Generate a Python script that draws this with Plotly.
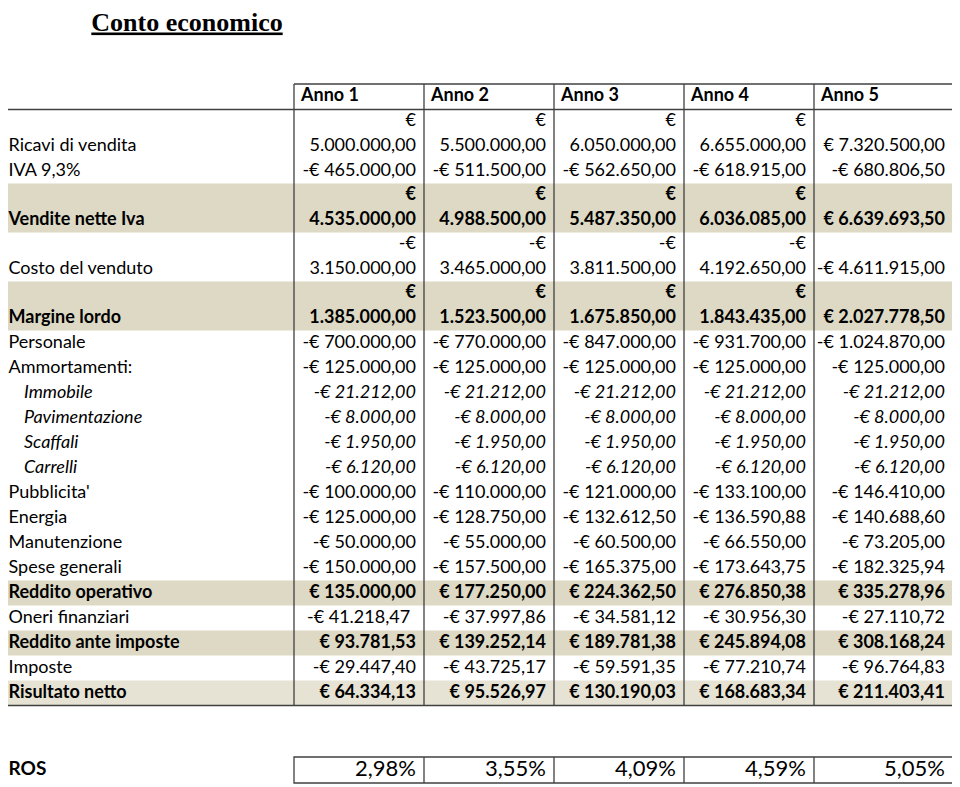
import plotly.graph_objects as go

# ---------------- data ----------------
title_text = "Conto economico"
years = ["Anno 1", "Anno 2", "Anno 3", "Anno 4", "Anno 5"]

row_labels = ["Ricavi di vendita", "IVA 9,3%", "Vendite nette Iva", "Costo del venduto",
              "Margine lordo", "Personale", "Ammortamenti:", "Immobile", "Pavimentazione",
              "Scaffali", "Carrelli", "Pubblicita'", "Energia", "Manutenzione",
              "Spese generali", "Reddito operativo", "Oneri finanziari",
              "Reddito ante imposte", "Imposte", "Risultato netto"]

ricavi_vendita = [5000000.00, 5500000.00, 6050000.00, 6655000.00, 7320500.00]
iva = [-465000.00, -511500.00, -562650.00, -618915.00, -680806.50]
vendite_nette_iva = [4535000.00, 4988500.00, 5487350.00, 6036085.00, 6639693.50]
costo_venduto = [-3150000.00, -3465000.00, -3811500.00, -4192650.00, -4611915.00]
margine_lordo = [1385000.00, 1523500.00, 1675850.00, 1843435.00, 2027778.50]
personale = [-700000.00, -770000.00, -847000.00, -931700.00, -1024870.00]
ammortamenti = [-125000.00, -125000.00, -125000.00, -125000.00, -125000.00]
immobile = [-21212.00, -21212.00, -21212.00, -21212.00, -21212.00]
pavimentazione = [-8000.00, -8000.00, -8000.00, -8000.00, -8000.00]
scaffali = [-1950.00, -1950.00, -1950.00, -1950.00, -1950.00]
carrelli = [-6120.00, -6120.00, -6120.00, -6120.00, -6120.00]
pubblicita = [-100000.00, -110000.00, -121000.00, -133100.00, -146410.00]
energia = [-125000.00, -128750.00, -132612.50, -136590.88, -140688.60]
manutenzione = [-50000.00, -55000.00, -60500.00, -66550.00, -73205.00]
spese_generali = [-150000.00, -157500.00, -165375.00, -173643.75, -182325.94]
reddito_operativo = [135000.00, 177250.00, 224362.50, 276850.38, 335278.96]
oneri_finanziari = [-41218.47, -37997.86, -34581.12, -30956.30, -27110.72]
reddito_ante_imposte = [93781.53, 139252.14, 189781.38, 245894.08, 308168.24]
imposte = [-29447.40, -43725.17, -59591.35, -77210.74, -96764.83]
risultato_netto = [64334.13, 95526.97, 130190.03, 168683.34, 211403.41]

ros_label = "ROS"
ros_values = ["2,98%", "3,55%", "4,09%", "4,59%", "5,05%"]

row_values = [ricavi_vendita, iva, vendite_nette_iva, costo_venduto, margine_lordo,
              personale, ammortamenti, immobile, pavimentazione, scaffali, carrelli,
              pubblicita, energia, manutenzione, spese_generali, reddito_operativo,
              oneri_finanziari, reddito_ante_imposte, imposte, risultato_netto]

# ---------------- styles / layout ----------------
row_kind = ["n", "n", "t", "n", "t", "n", "n", "s", "s", "s", "s", "n", "n", "n", "n",
            "t", "n", "t", "n", "t2"]
left_aligned_cells = {(16, 0)}   # Oneri finanziari, Anno 1

FONT = "Lato"
FS = 18
W, H = 960, 787
OFF = 8   # page body margin: figure starts at (8, 8) in the window
col_edges = [294, 424, 554, 684, 814, 953]
table_left = OFF
header_top, header_bottom = 84, 109.5
single_h, double_h = 25, 49
label_x, sub_x = OFF + 0.5, 24
pad_r = 8
shade = "#DDD9C4"
shade_light = "#E6E3D4"
line_col = "#404040"


def fmt(v):
    s = f"{abs(v):,.2f}".replace(",", "X").replace(".", ",").replace("X", ".")
    return ("-€", s) if v < 0 else ("€", s)


def wrap(text_pair, col):
    sign, num = text_pair
    return col < 4 and len(sign) + 1 + len(num) >= 14


tops, bottoms = [], []
y = header_bottom
for vals in row_values:
    dbl = any(wrap(fmt(v), c) for c, v in enumerate(vals))
    h = double_h if dbl else single_h
    tops.append(y)
    bottoms.append(y + h)
    y += h
table_bottom = y

shapes = []
for i, k in enumerate(row_kind):
    if k in ("t", "t2"):
        shapes.append(dict(type="rect", xref="x", yref="y", x0=table_left, x1=col_edges[-1],
                           y0=tops[i], y1=bottoms[i], fillcolor=shade if k == "t" else shade_light,
                           line_width=0, layer="below"))
lw = 1.3
shapes.append(dict(type="line", xref="x", yref="y", x0=col_edges[0], x1=col_edges[-1],
                   y0=header_top, y1=header_top, line=dict(color=line_col, width=lw)))
shapes.append(dict(type="line", xref="x", yref="y", x0=table_left, x1=col_edges[-1],
                   y0=header_bottom, y1=header_bottom, line=dict(color=line_col, width=lw)))
shapes.append(dict(type="line", xref="x", yref="y", x0=table_left, x1=col_edges[-1],
                   y0=table_bottom, y1=table_bottom, line=dict(color=line_col, width=lw)))
for xe in col_edges:
    shapes.append(dict(type="line", xref="x", yref="y", x0=xe, x1=xe,
                       y0=header_top, y1=table_bottom, line=dict(color=line_col, width=lw)))

ros_top, ros_bottom = 757, 783
ros_y = (ros_top + ros_bottom) / 2
shapes.append(dict(type="rect", xref="x", yref="y", x0=col_edges[0], x1=col_edges[-1],
                   y0=ros_top, y1=ros_bottom, line=dict(color=line_col, width=lw)))
for xe in col_edges[1:-1]:
    shapes.append(dict(type="line", xref="x", yref="y", x0=xe, x1=xe,
                       y0=ros_top, y1=ros_bottom, line=dict(color=line_col, width=lw)))


def style(t, k):
    if k in ("t", "t2"):
        return f"<b>{t}</b>"
    if k == "s":
        return f"<i>{t}</i>"
    return t


rx, ry, rt = [], [], []
lx, ly, lt = [], [], []

for c, yr in enumerate(years):
    lx.append(col_edges[c] + 7)
    ly.append((header_top + header_bottom) / 2)
    lt.append(f"<b>{yr}</b>")

for i, (lab, vals) in enumerate(zip(row_labels, row_values)):
    k = row_kind[i]
    bottom_line_y = bottoms[i] - 12.5
    top_line_y = bottoms[i] - 37
    lx.append(sub_x if k == "s" else label_x)
    ly.append(bottom_line_y)
    lt.append(style(lab, k))
    for c, v in enumerate(vals):
        sign, num = fmt(v)
        if wrap((sign, num), c):
            rx += [col_edges[c + 1] - pad_r] * 2
            ry += [top_line_y, bottom_line_y]
            rt += [style(sign, k), style(num, k)]
        elif (i, c) in left_aligned_cells:
            lx.append(col_edges[c] + 13)
            ly.append(bottom_line_y)
            lt.append(style(f"{sign} {num}", k))
        else:
            rx.append(col_edges[c + 1] - pad_r)
            ry.append(bottom_line_y)
            rt.append(style(f"{sign} {num}", k))

fig = go.Figure()
fig.add_trace(go.Scatter(x=lx, y=ly, text=lt, mode="text", textposition="middle right",
                         textfont=dict(family=FONT, size=FS, color="black"),
                         hoverinfo="skip", showlegend=False, cliponaxis=False))
fig.add_trace(go.Scatter(x=rx, y=ry, text=rt, mode="text", textposition="middle left",
                         textfont=dict(family=FONT, size=FS, color="black"),
                         hoverinfo="skip", showlegend=False, cliponaxis=False))
fig.add_trace(go.Scatter(x=[label_x], y=[ros_y], text=[f"<b>{ros_label}</b>"], mode="text",
                         textposition="middle right",
                         textfont=dict(family=FONT, size=19, color="black"),
                         hoverinfo="skip", showlegend=False, cliponaxis=False))
fig.add_trace(go.Scatter(x=[e - pad_r for e in col_edges[1:]], y=[ros_y] * len(ros_values),
                         text=ros_values, mode="text", textposition="middle left",
                         textfont=dict(family=FONT, size=22, color="black"),
                         hoverinfo="skip", showlegend=False, cliponaxis=False))
fig.add_trace(go.Scatter(x=[187], y=[24], text=[f"<b><u>{title_text}</u></b>"], mode="text",
                         textposition="middle center",
                         textfont=dict(family="Liberation Serif", size=26, color="black"),
                         hoverinfo="skip", showlegend=False, cliponaxis=False))

fig.update_layout(width=W - OFF, height=H - OFF, margin=dict(l=0, r=0, t=0, b=0),
                  paper_bgcolor="white", plot_bgcolor="white", shapes=shapes,
                  xaxis=dict(range=[OFF, W], visible=False, fixedrange=True),
                  yaxis=dict(range=[H, OFF], visible=False, fixedrange=True))
fig.write_html("out.html")
